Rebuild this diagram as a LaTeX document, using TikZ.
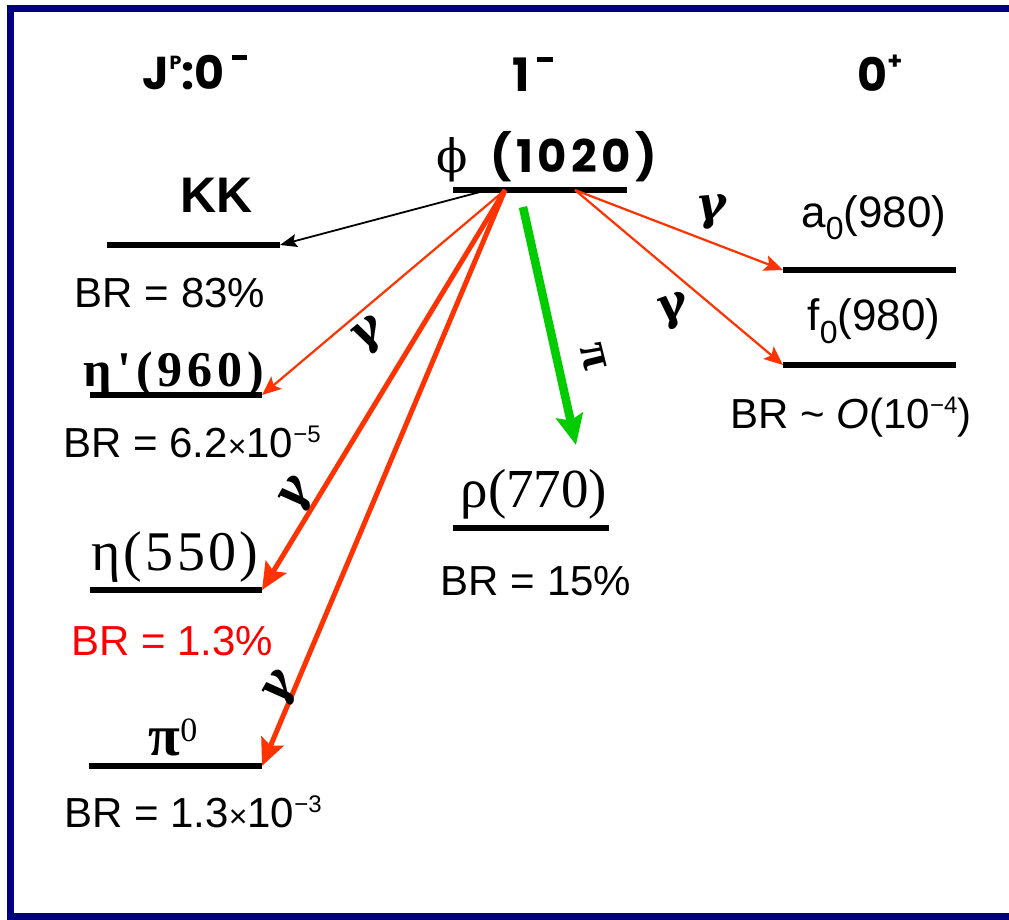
\documentclass[tikz,border=0pt]{standalone}
\usepackage{fontspec}
\setmainfont{Liberation Sans}
\newfontfamily\ttl{Poppins}
\newfontfamily\tms{Liberation Serif}
\newfontfamily\dvs{DejaVu Serif}
\usetikzlibrary{arrows.meta}
\definecolor{navyb}{RGB}{0,0,128}
\definecolor{ared}{RGB}{255,51,0}
\definecolor{agreen}{RGB}{0,204,0}
\definecolor{tred}{RGB}{255,0,0}
\newcommand\supsm[1]{\raisebox{15pt}{\fontsize{24}{24}\selectfont #1}}
\newcommand\tmul{{\fontsize{32}{32}\selectfont ×}}
\begin{document}
\begin{tikzpicture}[x=1pt,y=-1pt,
  lvl/.style={line width=5.5pt},
  brl/.style={anchor=base,inner sep=0pt,font=\fontsize{42}{46}\selectfont},
  ttlf/.style={anchor=base,inner sep=0pt,font=\ttl\bfseries\fontsize{46}{50}\selectfont},
  gam/.style={inner sep=0pt,font=\dvs\bfseries\itshape\fontsize{46}{46}\selectfont},
  thinr/.style={draw=ared,line width=2.2pt,-{Stealth[length=19pt,width=16pt,inset=4pt]}},
  thickr/.style={draw=ared,line width=5pt,-{Stealth[length=27pt,width=24pt,inset=5pt]}},
  thinb/.style={draw=black,line width=1.8pt,-{Stealth[length=17pt,width=13pt,inset=3pt]}},
  greenar/.style={draw=agreen,line width=8.5pt,-{Stealth[length=30pt,width=27pt,inset=5pt]}},
  tlab/.style={anchor=base,inner sep=0pt}]
\useasboundingbox (0,0) rectangle (1009,920);
\clip (0,0) rectangle (1009,920);
\fill[white] (0,0) rectangle (1009,920);
\draw[navyb,line width=7pt] (10,9) rectangle (1045,916);

% level coordinates
\coordinate (phiL) at (453,190); \coordinate (phiR) at (627,190);
\coordinate (kkL) at (107,245); \coordinate (kkR) at (280,245);
\coordinate (epL) at (90,395); \coordinate (epR) at (262,395);
\coordinate (etL) at (90,590); \coordinate (etR) at (262,590);
\coordinate (piL) at (89,766); \coordinate (piR) at (262,766);
\coordinate (rhoL) at (453,528); \coordinate (rhoR) at (609,528);
\coordinate (a0L) at (783,270); \coordinate (a0R) at (956,270);
\coordinate (f0L) at (783,365); \coordinate (f0R) at (956,365);
\foreach \l in {phi,kk,ep,et,pi,rho,a0,f0} \draw[lvl] (\l L) -- (\l R);

% arrow start points
\coordinate (sK) at (480,192);
\coordinate (sR) at (505,190);
\coordinate (sG) at (523,207);
\coordinate (sA) at (575,190);
\coordinate (gEnd) at (576,445);

% titles
\node[ttlf] (tJ) at (195,90) {J\raisebox{20pt}{\fontsize{19}{19}\selectfont P}:0\,\rule[30pt]{15pt}{4.5pt}};
\node[ttlf] (t1) at (533,92) {1\,\rule[30pt]{16pt}{4.5pt}};
\node[ttlf] (t0) at (880,92) {0\raisebox{22pt}{\fontsize{24}{24}\selectfont +}};
\node[tlab] (phi) at (547,173) {{\dvs\fontsize{46}{46}\selectfont ϕ}\hspace{22pt}{\ttl\bfseries\fontsize{45}{45}\selectfont\addfontfeature{LetterSpace=10}(1020)}};

% level labels
\node[tlab,font=\bfseries\fontsize{50}{54}\selectfont] (kk) at (217,213) {KK};
\node[tlab,font=\tms\bfseries\fontsize{50}{54}\selectfont\addfontfeature{LetterSpace=10}] (ep) at (174,386) {η'(960)};
\node[tlab,font=\tms\fontsize{56}{60}\selectfont\addfontfeature{LetterSpace=6}] (et) at (175,570) {η(550)};
\node[tlab] (pi) at (173,755) {{\tms\bfseries\fontsize{58}{58}\selectfont π}\raisebox{14pt}{\tms\fontsize{34}{34}\selectfont 0}};
\node[tlab,font=\tms\fontsize{55}{59}\selectfont] (rho) at (534,507) {ρ(770)};
\node[tlab,font=\fontsize{44}{48}\selectfont] (a0) at (874,227) {a\raisebox{-13pt}{\fontsize{32}{32}\selectfont 0}(980)};
\node[tlab,font=\fontsize{44}{48}\selectfont] (f0) at (874,330) {f\raisebox{-13pt}{\fontsize{32}{32}\selectfont 0}(980)};

% BR labels
\node[brl] (brkk) at (170,307) {BR = 83\%};
\node[brl] (brep) at (192,457) {BR = 6.2\tmul10\supsm{−5}};
\node[brl,text=tred] (bret) at (172,655) {BR = 1.3\%};
\node[brl] (brpi) at (193,827) {BR = 1.3\tmul10\supsm{−3}};
\node[brl] (brrho) at (536,595) {BR = 15\%};
\node[brl] (bra0) at (851,428) {BR \textasciitilde{} \textit{O}(10\supsm{−4})};

% arrows
\draw[thinb] (sK) -- (kkR);
\draw[thinr] (sR) -- (epR);
\draw[thickr] (sR) -- (etR);
\draw[thickr] (sR) -- (piR);
\draw[thinr] (sA) -- (a0L);
\draw[thinr] (sA) -- (f0L);
\draw[greenar] (sG) -- (gEnd);

% photon / pion labels
\node[gam,rotate=5] (g1) at (712,212) {γ};
\node[gam,rotate=20] (g2) at (673,312) {γ};
\node[gam,rotate=40] (g3) at (370,336) {γ};
\node[gam,rotate=60] (g4) at (298,496) {γ};
\node[gam,rotate=60] (g5) at (282,690) {γ};
\node[inner sep=0pt,font=\tms\bfseries\fontsize{48}{48}\selectfont,rotate=-76] (pil) at (593,357) {π};
\end{tikzpicture}
\end{document}
